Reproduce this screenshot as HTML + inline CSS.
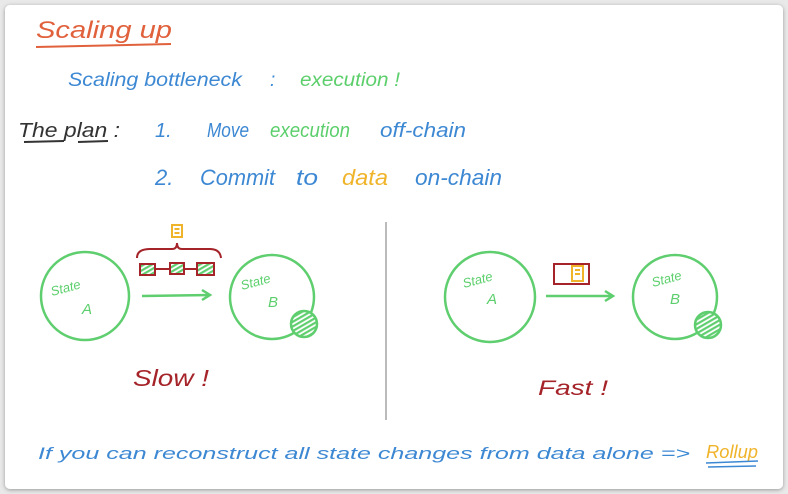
<!DOCTYPE html>
<html><head><meta charset="utf-8"><style>
html,body{margin:0;padding:0;background:#fff;}
svg{display:block;}
text{font-family:"Liberation Sans",sans-serif;font-style:italic;}
</style></head><body>
<svg width="788" height="494" viewBox="0 0 788 494" xmlns="http://www.w3.org/2000/svg">
<defs>
<filter id="sh" x="-5%" y="-5%" width="110%" height="110%"><feDropShadow dx="0" dy="1" stdDeviation="2" flood-color="#000" flood-opacity="0.35"/></filter>
<pattern id="hatch" width="4" height="4" patternUnits="userSpaceOnUse" patternTransform="rotate(60)"><rect width="4" height="4" fill="#fff"/><rect width="2.2" height="4" fill="#5fce6f"/></pattern>
</defs>
<rect x="0" y="0" width="788" height="494" fill="#e9e9e9"/>
<rect x="5" y="5" width="778" height="484" rx="5" fill="#fff" filter="url(#sh)"/>

<text x="36" y="38" font-size="24" fill="#e0613c" textLength="136" lengthAdjust="spacingAndGlyphs">Scaling up</text>
<path d="M36 47 L171 44" stroke="#e0613c" stroke-width="2" fill="none"/>

<text x="68" y="86" font-size="19" fill="#3d88d3" textLength="174" lengthAdjust="spacingAndGlyphs">Scaling bottleneck</text>
<text x="270" y="86" font-size="19" fill="#3d88d3">:</text>
<text x="300" y="86" font-size="19" fill="#5ccf6c" textLength="100" lengthAdjust="spacingAndGlyphs">execution !</text>

<text x="18" y="137" font-size="20" fill="#333" textLength="102" lengthAdjust="spacingAndGlyphs">The plan :</text>
<path d="M24 142 L64 141 M78 142 L108 141" stroke="#333" stroke-width="2" fill="none"/>

<text x="155" y="137" font-size="20" fill="#3d88d3">1.</text>
<text x="207" y="137" font-size="20" fill="#3d88d3" textLength="42" lengthAdjust="spacingAndGlyphs">Move</text>
<text x="270" y="137" font-size="20" fill="#5ccf6c" textLength="80" lengthAdjust="spacingAndGlyphs">execution</text>
<text x="380" y="137" font-size="20" fill="#3d88d3" textLength="86" lengthAdjust="spacingAndGlyphs">off-chain</text>

<text x="155" y="185" font-size="22" fill="#3d88d3">2.</text>
<text x="200" y="185" font-size="22" fill="#3d88d3" textLength="75" lengthAdjust="spacingAndGlyphs">Commit</text>
<text x="296" y="185" font-size="22" fill="#3d88d3" textLength="22" lengthAdjust="spacingAndGlyphs">to</text>
<text x="342" y="185" font-size="22" fill="#f0b42b" textLength="46" lengthAdjust="spacingAndGlyphs">data</text>
<text x="415" y="185" font-size="22" fill="#3d88d3" textLength="87" lengthAdjust="spacingAndGlyphs">on-chain</text>

<line x1="386" y1="222" x2="386" y2="420" stroke="#bbb" stroke-width="2"/>

<g fill="none" stroke="#5fce6f" stroke-width="2.5">
<circle cx="85" cy="296" r="44"/>
<circle cx="272" cy="297" r="42"/>
<circle cx="304" cy="324" r="13" fill="url(#hatch)"/>
<path d="M142 296 L210 295 M202 290 L210 295 L202 300"/>
<circle cx="490" cy="297" r="45"/>
<circle cx="675" cy="297" r="42"/>
<circle cx="708" cy="325" r="13" fill="url(#hatch)"/>
<path d="M546 296 L613 296 M605 291 L613 296 L605 301"/>
</g>
<g fill="#5ccf6c" font-size="13">
<text x="52" y="296" transform="rotate(-15 52 296)">State</text>
<text x="82" y="314" font-size="15">A</text>
<text x="242" y="290" transform="rotate(-15 242 290)">State</text>
<text x="268" y="307" font-size="15">B</text>
<text x="464" y="288" transform="rotate(-15 464 288)">State</text>
<text x="487" y="304" font-size="15">A</text>
<text x="653" y="287" transform="rotate(-15 653 287)">State</text>
<text x="670" y="304" font-size="15">B</text>
</g>

<g stroke="#a5242a" stroke-width="2">
<rect x="140" y="264" width="15" height="11" fill="url(#hatch)"/>
<rect x="170" y="263" width="14" height="11" fill="url(#hatch)"/>
<rect x="197" y="263" width="17" height="12" fill="url(#hatch)"/>
<path d="M155 269 L170 269 M184 269 L197 269" fill="none"/>
<path d="M137 258 Q137 249 150 249 L172 249 Q177 249 177 243 Q177 249 182 249 L210 249 Q220 249 221 258" fill="none"/>
</g>
<g stroke="#f0b42b" stroke-width="2" fill="none">
<rect x="172" y="225" width="10" height="12"/>
<path d="M174.5 229 L179.5 229 M174.5 233 L179.5 233"/>
</g>

<rect x="554" y="264" width="35" height="20" fill="none" stroke="#a5242a" stroke-width="2"/>
<g stroke="#f0b42b" stroke-width="2" fill="none">
<rect x="572" y="266" width="11" height="15"/>
<path d="M575 270 L580 270 M575 274 L580 274"/>
</g>

<text x="133" y="386" font-size="23" fill="#a5242a" textLength="76" lengthAdjust="spacingAndGlyphs">Slow !</text>
<text x="538" y="395" font-size="21" fill="#a5242a" textLength="70" lengthAdjust="spacingAndGlyphs">Fast !</text>

<text x="38" y="459" font-size="17" fill="#3d88d3" textLength="652" lengthAdjust="spacingAndGlyphs">If you can reconstruct all state changes from data alone =&gt;</text>
<text x="706" y="458" font-size="18" fill="#f0b42b" textLength="52" lengthAdjust="spacingAndGlyphs">Rollup</text>
<path d="M706 463 L758 461 M708 467 L756 466" stroke="#3d88d3" stroke-width="1.5" fill="none"/>
</svg>
</body></html>
